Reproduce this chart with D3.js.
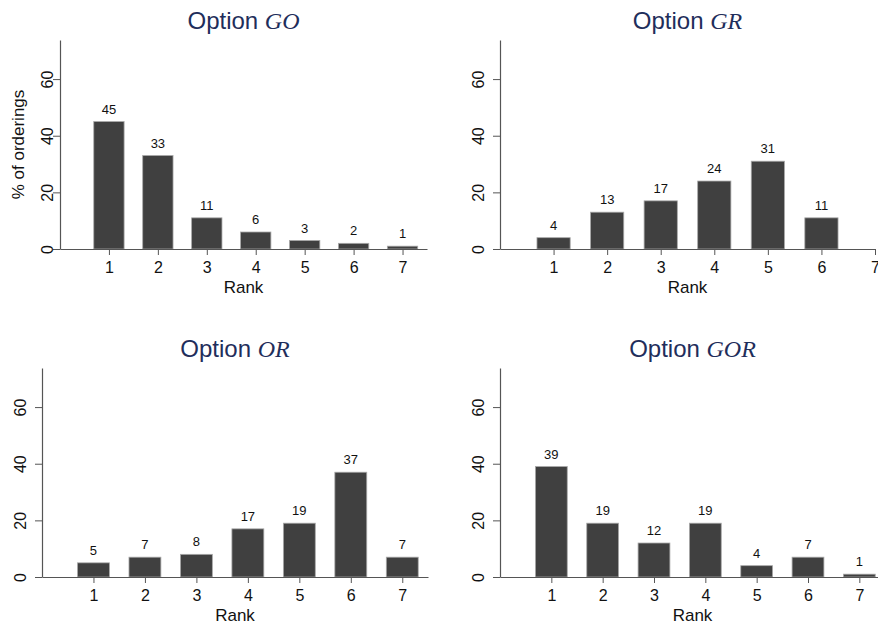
<!DOCTYPE html>
<html>
<head>
<meta charset="utf-8">
<script src="https://cdn.jsdelivr.net/npm/d3@7"></script>
<style>
  body { margin: 0; background: #fff; }
  svg { display: block; font-family: "Liberation Sans", Arial, Helvetica, sans-serif; }
</style>
</head>
<body>
<svg id="chart" width="878" height="627"></svg>
<script>
// ranks on the x axis, shared by all four panels
var ranks = [1, 2, 3, 4, 5, 6, 7];
var yTicks = [0, 20, 40, 60];

// % of orderings for each option (null = no bar)
var pctGO  = [45, 33, 11, 6, 3, 2, 1];
var pctGR  = [4, 13, 17, 24, 31, 11, null];
var pctOR  = [5, 7, 8, 17, 19, 37, 7];
var pctGOR = [39, 19, 12, 19, 4, 7, 1];

var yMax = 73.8;

// panel layout (positions only)
var panels = [
  { name: 'GO',  values: pctGO,  x0: 60,  x1: 427, xMax: 7.5, top: 40,  zero: 249, yLabGap: 7,  yTitle: true },
  { name: 'GR',  values: pctGR,  x0: 500, x1: 875, xMax: 7,   top: 40,  zero: 249, yLabGap: 16 },
  { name: 'OR',  values: pctOR,  x0: 42,  x1: 428, xMax: 7.5, top: 368, zero: 577, yLabGap: 16 },
  { name: 'GOR', values: pctGOR, x0: 500, x1: 885, xMax: 7.5, top: 368, zero: 577, yLabGap: 16 }
];

var svg = d3.select('#chart');
svg.append('rect').attr('width', 878).attr('height', 627).attr('fill', '#fff');

panels.forEach(function(p) {
  var x = d3.scaleLinear().domain([0, p.xMax]).range([p.x0, p.x1]);
  var y = d3.scaleLinear().domain([0, yMax]).range([p.zero, p.top]);
  var step = x(2) - x(1);
  var barW = step * 0.62;

  var g = svg.append('g').attr('class', 'panel');

  var rows = ranks.map(function(r, i) { return { rank: r, v: p.values[i] }; })
    .filter(function(d) { return d.v != null; });

  // bars
  g.selectAll('rect.bar')
    .data(rows)
    .enter()
      .append('rect')
        .attr('class', 'bar')
        .attr('x', function(d) { return x(d.rank) - barW / 2; })
        .attr('width', barW)
        .attr('y', function(d) { return y(d.v); })
        .attr('height', function(d) { return y(0) - y(d.v); })
        .attr('fill', '#404040')
        .attr('stroke', '#a8a8a8')
        .attr('stroke-width', 0.8);

  // value labels above bars
  g.selectAll('text.val')
    .data(rows)
    .enter()
      .append('text')
        .attr('class', 'val')
        .attr('x', function(d) { return x(d.rank); })
        .attr('y', function(d) { return y(d.v) - 8; })
        .attr('text-anchor', 'middle')
        .attr('font-size', 13)
        .attr('fill', '#111')
        .text(function(d) { return d.v; });

  // x axis
  var xa = g.append('g')
    .attr('transform', 'translate(0,' + p.zero + ')')
    .call(d3.axisBottom(x).tickValues(ranks).tickSize(6).tickSizeOuter(0).tickFormat(d3.format('d')));
  xa.select('.domain').attr('stroke', '#555').attr('stroke-width', 1.2);
  xa.selectAll('.tick line').attr('stroke', '#555');
  xa.selectAll('.tick text')
    .attr('y', 24).attr('dy', null)
    .attr('font-size', 16).attr('fill', '#111')
    .attr('font-family', '"Liberation Sans", Arial, sans-serif');

  // y axis, labels turned sideways
  var ya = g.append('g')
    .attr('transform', 'translate(' + p.x0 + ',0)')
    .call(d3.axisLeft(y).tickValues(yTicks).tickSize(7).tickSizeOuter(0));
  ya.select('.domain').attr('stroke', '#555').attr('stroke-width', 1.2);
  ya.selectAll('.tick line').attr('stroke', '#555');
  ya.selectAll('.tick text')
    .attr('x', null).attr('dy', null)
    .attr('transform', 'translate(' + (-p.yLabGap) + ',0) rotate(-90)')
    .attr('text-anchor', 'middle')
    .attr('font-size', 16).attr('fill', '#111')
    .attr('font-family', '"Liberation Sans", Arial, sans-serif');

  // x title
  g.append('text')
    .attr('x', (p.x0 + x(p.xMax)) / 2)
    .attr('y', p.zero + 44)
    .attr('text-anchor', 'middle')
    .attr('font-size', 17)
    .attr('fill', '#111')
    .text('Rank');

  if (p.yTitle) {
    g.append('text')
      .attr('transform', 'translate(24,' + (p.top + p.zero) / 2 + ') rotate(-90)')
      .attr('text-anchor', 'middle')
      .attr('font-size', 17)
      .attr('fill', '#111')
      .text('% of orderings');
  }

  // panel title
  var t = g.append('text')
    .attr('x', (p.x0 + x(p.xMax)) / 2)
    .attr('y', p.top - 11)
    .attr('text-anchor', 'middle')
    .attr('font-size', 24)
    .attr('fill', '#1f2e5b');
  t.append('tspan').text('Option ');
  t.append('tspan')
    .attr('font-family', '"Liberation Serif", "Times New Roman", serif')
    .attr('font-style', 'italic')
    .text(p.name);
});
</script>
</body>
</html>
